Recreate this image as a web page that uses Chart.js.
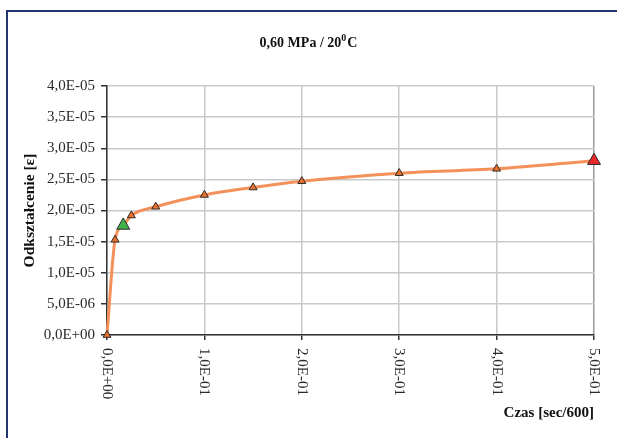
<!DOCTYPE html>
<html>
<head>
<meta charset="utf-8">
<script src="https://cdn.jsdelivr.net/npm/chart.js@4/dist/chart.umd.min.js"></script>
<style>
  html, body { margin: 0; padding: 0; background: #ffffff; overflow: hidden; }
  #wrap { position: relative; width: 617px; height: 438px; overflow: hidden; }
  #frame { position: absolute; left: 6px; top: 10px; width: 900px; height: 900px;
           border-left: 2px solid #26356d; border-top: 2px solid #26356d; }
  #c { position: absolute; left: 0; top: 0; }
</style>
</head>
<body>
<div id="wrap">
  <div id="frame"></div>
  <canvas id="c" width="617" height="438"></canvas>
</div>
<script>
// Creep test: strain versus time at 0,60 MPa and 20 °C
const timeValues   = [0, 0.0083, 0.0167, 0.025, 0.05, 0.1, 0.15, 0.2, 0.3, 0.4, 0.5];
const strainValues = [0, 1.53e-5, 1.76e-5, 1.92e-5, 2.06e-5, 2.25e-5, 2.37e-5, 2.47e-5, 2.60e-5, 2.67e-5, 2.80e-5];
const xTickLabels  = ['0,0E+00', '1,0E-01', '2,0E-01', '3,0E-01', '4,0E-01', '5,0E-01'];
const yTickLabels  = ['0,0E+00', '5,0E-06', '1,0E-05', '1,5E-05', '2,0E-05', '2,5E-05', '3,0E-05', '3,5E-05', '4,0E-05'];
const titleMain = '0,60 MPa / 20';
const titleSup  = '0';
const titleEnd  = 'C';
const yTitle = 'Odkształcenie [ε]';
const xTitle = 'Czas [sec/600]';

const SERIF = '"Liberation Serif", "Times New Roman", serif';

// marker styling: highlighted second and last readings
const lastIdx = timeValues.length - 1;
const pointFill = timeValues.map((_, i) => i === 2 ? '#3fb34a' : (i === lastIdx ? '#e8262b' : '#e9702e'));
const pointSize = timeValues.map((_, i) => (i === 2 || i === lastIdx) ? 7.5 : 4.6);

const titlePlugin = {
  id: 'titleWithSup',
  afterDraw(chart) {
    const ctx = chart.ctx;
    ctx.save();
    const big = 'bold 14px ' + SERIF;
    const small = 'bold 10px ' + SERIF;
    ctx.font = big;
    const w1 = ctx.measureText(titleMain).width;
    const w3 = ctx.measureText(titleEnd).width;
    ctx.font = small;
    const w2 = ctx.measureText(titleSup).width + 1;
    const total = w1 + w2 + w3;
    let x = chart.width / 2 - total / 2;
    const y = 47;
    ctx.fillStyle = '#111';
    ctx.textBaseline = 'alphabetic';
    ctx.textAlign = 'left';
    ctx.font = big;
    ctx.fillText(titleMain, x, y);
    x += w1;
    ctx.font = small;
    ctx.fillText(titleSup, x, y - 6);
    x += w2;
    ctx.font = big;
    ctx.fillText(titleEnd, x, y);
    ctx.restore();
  }
};

// x tick labels run downward (rotated clockwise)
const xLabelPlugin = {
  id: 'xLabelsDown',
  afterDraw(chart) {
    const sx = chart.scales.x;
    const ctx = chart.ctx;
    ctx.save();
    ctx.font = '15px ' + SERIF;
    ctx.fillStyle = '#2a2a2a';
    ctx.textAlign = 'left';
    ctx.textBaseline = 'middle';
    sx.ticks.forEach((t, i) => {
      const px = sx.getPixelForValue(t.value);
      ctx.save();
      ctx.translate(px, chart.chartArea.bottom + 13);
      ctx.rotate(Math.PI / 2);
      ctx.fillText(xTickLabels[i] ?? '', 0, 0);
      ctx.restore();
    });
    ctx.restore();
  }
};

new Chart(document.getElementById('c'), {
  type: 'line',
  data: {
    datasets: [{
      data: timeValues.map((t, i) => ({ x: t, y: strainValues[i] })),
      borderColor: '#f4905a',
      borderWidth: 3,
      cubicInterpolationMode: 'monotone',
      pointStyle: 'triangle',
      pointRadius: pointSize,
      pointBackgroundColor: pointFill,
      pointBorderColor: '#2b2b2b',
      pointBorderWidth: 1,
      clip: false
    }]
  },
  options: {
    responsive: false,
    animation: false,
    events: [],
    layout: { padding: { left: 0, right: 23, top: 86, bottom: 0 } },
    plugins: { legend: { display: false }, tooltip: { enabled: false }, title: { display: false } },
    scales: {
      x: {
        type: 'linear',
        min: 0, max: 0.5,
        afterFit(scale) { scale.height = 103; },
        ticks: { stepSize: 0.1, display: false },
        grid: {
          color: ctx => ctx.index === xTickLabels.length - 1 ? '#9a9a9a' : '#c9c9c9',
          lineWidth: 1.5,
          tickColor: '#333',
          tickLength: 5
        },
        border: { color: '#333', width: 1.5 },
        title: {
          display: true, text: xTitle, align: 'end',
          color: '#111',
          font: { family: SERIF, size: 15, weight: 'bold' },
          padding: { top: 0, bottom: 16 }
        }
      },
      y: {
        min: 0, max: 4e-5,
        afterFit(scale) { scale.width = 107; },
        ticks: {
          stepSize: 5e-6,
          padding: 6,
          color: '#2a2a2a',
          font: { family: SERIF, size: 15 },
          callback: (v, i) => yTickLabels[i]
        },
        grid: { color: '#c9c9c9', lineWidth: 1.5, tickColor: '#333', tickLength: 6 },
        border: { color: '#333', width: 1.5 },
        title: {
          display: true, text: yTitle,
          color: '#111',
          font: { family: SERIF, size: 15.5, weight: 'bold' },
          padding: { top: 21, bottom: 0 }
        }
      }
    }
  },
  plugins: [titlePlugin, xLabelPlugin]
});
</script>
</body>
</html>
